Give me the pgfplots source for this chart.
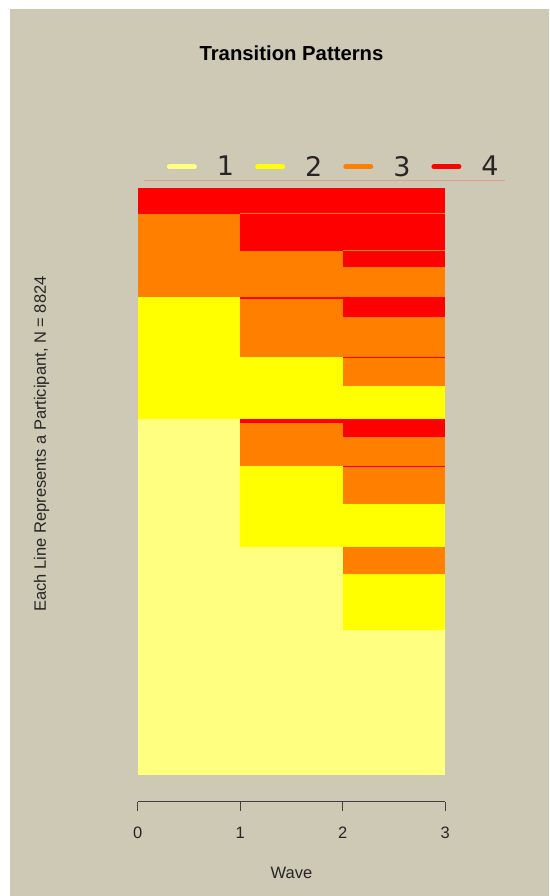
\documentclass[border=0pt]{standalone}
\usepackage{fontspec}
\setmainfont{Liberation Sans}
\newfontfamily\dejavu{DejaVu Sans}
\usepackage{pgfplots}
\pgfplotsset{compat=1.18}
\definecolor{bg}{RGB}{206,201,181}
\definecolor{sA}{RGB}{255,255,128}
\definecolor{sB}{RGB}{255,255,0}
\definecolor{sC}{RGB}{255,128,0}
\definecolor{sD}{RGB}{255,0,0}
% segment: column start x0, cumulative top of the segment, state colour
% (each segment is drawn from the column bottom to its top, tallest first)
\newcommand{\seg}[3]{\addplot[fill=#3, draw=none, forget plot] coordinates {(#1,0) (3,0) (3,#2) (#1,#2)} --cycle;}
\begin{document}
\begin{tikzpicture}
\fill[white] (0pt,0pt) rectangle (549pt,896pt);
\fill[bg] (9.5pt,0pt) rectangle (549pt,886.5pt);
\begin{axis}[
  at={(137.7pt,94.3pt)}, anchor=south west,
  scale only axis, width=307.6pt, height=614pt,
  xmin=0, xmax=3, ymin=-401, ymax=8824,
  axis x line*=bottom, axis y line*=left,
  y axis line style={draw=none},
  x axis line style={-, line width=0.9pt, color=black!75},
  xtick={0,1,2,3}, ytick=\empty,
  tick align=outside, major tick length=9pt,
  x tick style={line width=0.9pt, color=black!75},
  /pgf/number format/assume math mode=true,
  xticklabel style={font=\fontsize{16.5}{18}\selectfont, text=black!85, yshift=-13pt},
  title={Transition Patterns},
  title style={at={(axis description cs:0.5,1.2096)}, anchor=center, font=\bfseries\fontsize{20.3}{24}\selectfont},
  xlabel={Wave},
  xlabel style={at={(axis description cs:0.5,-0.1161)}, anchor=center, font=\fontsize{16.5}{18}\selectfont, text=black!85},
  ylabel={Each Line Represents a Participant, N = 8824},
  ylabel style={at={(axis description cs:-0.3121,0.5826)}, anchor=center, rotate=0, font=\fontsize{16.5}{18}\selectfont, text=black!85},
  legend style={at={(axis description cs:0.0943,1.034)}, anchor=west, draw=none, fill=none, inner sep=0pt,
    font=\dejavu\fontsize{27}{27}\selectfont, text=black!85,
    /tikz/every odd column/.append style={column sep=20pt},
    /tikz/every even column/.append style={column sep=21pt},
    nodes={inner sep=0pt}},
  legend columns=4,
  legend image code/.code={\draw[#1, line width=5pt, line cap=round] (1.5pt,0pt) -- (26.5pt,0pt);},
]
% wave 0 column
\seg{0}{8824}{sD}
\seg{0}{8425}{sC}
\seg{0}{7187}{sB}
\seg{0}{5344}{sA}
% wave 1 column
\seg{1}{8824}{sD}
\seg{1}{8440}{sC}
\seg{1}{8425}{sD}
\seg{1}{7873}{sC}
\seg{1}{7187}{sD}
\seg{1}{7148}{sC}
\seg{1}{6280}{sB}
\seg{1}{5344}{sD}
\seg{1}{5293}{sC}
\seg{1}{4647}{sB}
\seg{1}{3426}{sA}
% wave 2 column
\seg{2}{8824}{sD}
\seg{2}{8440}{sC}
\seg{2}{8425}{sD}
\seg{2}{7890}{sC}
\seg{2}{7873}{sD}
\seg{2}{7633}{sC}
\seg{2}{7187}{sD}
\seg{2}{6886}{sC}
\seg{2}{6280}{sD}
\seg{2}{6260}{sC}
\seg{2}{5840}{sB}
\seg{2}{5344}{sD}
\seg{2}{5074}{sC}
\seg{2}{4647}{sD}
\seg{2}{4628}{sC}
\seg{2}{4076}{sB}
\seg{2}{3426}{sC}
\seg{2}{3015}{sB}
\seg{2}{2174}{sA}
\addlegendimage{color=sA}\addlegendentry{1}
\addlegendimage{color=sB}\addlegendentry{2}
\addlegendimage{color=sC}\addlegendentry{3}
\addlegendimage{color=sD}\addlegendentry{4}
\end{axis}
\draw[color={rgb,255:red,224;green,158;blue,140}, line width=0.6pt] (144pt,716pt) -- (505pt,716pt);
\end{tikzpicture}
\end{document}
